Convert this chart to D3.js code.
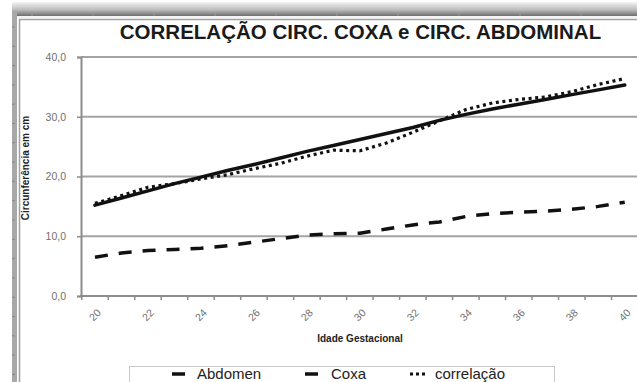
<!DOCTYPE html>
<html>
<head>
<meta charset="utf-8">
<script src="https://cdn.jsdelivr.net/npm/d3@7"></script>
<style>
  html, body { margin: 0; padding: 0; background: #fff; }
  svg { display: block; font-family: Arial, "Liberation Sans", sans-serif; }
</style>
</head>
<body>
<svg id="chart" width="637" height="382"></svg>
<script>
// Gestational age (weeks)
const weeks = [20,21,22,23,24,25,26,27,28,29,30,31,32,33,34,35,36,37,38,39,40];
// Abdominal circumference (cm)
const abdomen = [15.2,16.4,17.6,18.8,19.9,21.0,22.0,23.1,24.2,25.2,26.2,27.2,28.2,29.4,30.4,31.3,32.1,32.9,33.7,34.5,35.3];
// Thigh circumference (cm)
const coxa = [6.5,7.2,7.6,7.8,8.0,8.4,9.0,9.6,10.2,10.4,10.5,11.2,11.9,12.4,13.3,13.8,14.0,14.2,14.5,15.0,15.7];
// Correlation curve (cm)
const correlacao = [15.5,16.8,18.2,18.8,19.6,20.3,21.3,22.2,23.4,24.4,24.3,25.6,27.4,29.3,31.2,32.3,32.9,33.3,34.2,35.4,36.4];
const yTicks = [0,10,20,30,40];
const xLabelWeeks = [20,22,24,26,28,30,32,34,36,38,40];
const seriesNames = ["Abdomen","Coxa","correlação"];

const svg = d3.select("#chart");

// ---- page frame with shadow ----
const defs = svg.append("defs");
const grad = defs.append("linearGradient").attr("id","topShade").attr("x1",0).attr("y1",0).attr("x2",0).attr("y2",1);
grad.append("stop").attr("offset","0%").attr("stop-color","#f4f4f4");
grad.append("stop").attr("offset","55%").attr("stop-color","#bdbdbd");
grad.append("stop").attr("offset","100%").attr("stop-color","#6e6e6e");
svg.append("rect").attr("x",12).attr("y",2).attr("width",625).attr("height",14).attr("fill","url(#topShade)");
svg.append("rect").attr("x",12).attr("y",12).attr("width",5).attr("height",370).attr("fill","#a8a8a8");
svg.append("line").attr("x1",17).attr("x2",637).attr("y1",17).attr("y2",17).attr("stroke","#e8e8e8").attr("stroke-width",1);
svg.append("path").attr("d","M19.5,382V19.5H637").attr("fill","none").attr("stroke","#a0a0a0").attr("stroke-width",1.5);
// ruler ticks on the frame
d3.range(27, 382, 19.3).forEach(y => svg.append("line").attr("x1",12).attr("x2",15).attr("y1",y).attr("y2",y).attr("stroke","#888").attr("stroke-width",1));
d3.range(32, 637, 61).forEach(x => svg.append("line").attr("x1",x).attr("x2",x).attr("y1",13).attr("y2",16).attr("stroke","#999").attr("stroke-width",1));

// ---- scales ----
const x = d3.scaleBand().domain(weeks).range([81.75, 638]).padding(0);
const y = d3.scaleLinear().domain([0, 40]).range([296, 57]);
const cx = w => x(w) + x.bandwidth() / 2;

// ---- gridlines ----
svg.append("g").selectAll("line").data(yTicks.filter(v => v > 0)).join("line")
  .attr("x1", 81).attr("x2", 637)
  .attr("y1", d => y(d)).attr("y2", d => y(d))
  .attr("stroke", "#a3a3a3").attr("stroke-width", 2);

// ---- y axis ----
const yAxis = svg.append("g").attr("transform","translate(81,0)")
  .call(d3.axisLeft(y).tickValues(yTicks).tickSize(4).tickPadding(11)
    .tickFormat(d => d3.format(".1f")(d).replace(".", ",")));
yAxis.select(".domain").attr("stroke","#8c8c8c").attr("stroke-width",2);
yAxis.selectAll(".tick line").attr("stroke","#8c8c8c").attr("stroke-width",1.5);
yAxis.selectAll(".tick text").attr("fill","#707070").attr("font-size",10.5).attr("font-family","Arial, 'Liberation Sans', sans-serif");

// ---- x axis ----
const xAxis = svg.append("g").attr("transform","translate(0,296)");
xAxis.append("line").attr("x1",80).attr("x2",637).attr("y1",0).attr("y2",0)
  .attr("stroke","#8c8c8c").attr("stroke-width",2);
xAxis.selectAll("line.tk").data(weeks).join("line").attr("class","tk")
  .attr("x1", d => x(d)).attr("x2", d => x(d)).attr("y1",0).attr("y2",4)
  .attr("stroke","#8c8c8c").attr("stroke-width",1.5);
xAxis.selectAll("text").data(xLabelWeeks).join("text")
  .attr("transform", d => `translate(${cx(d)},19) rotate(-45)`)
  .attr("text-anchor","middle").attr("dy","0.35em")
  .attr("fill","#707070").attr("font-size",10.5)
  .text(d => d);

// ---- axis titles ----
svg.append("text").attr("x",360).attr("y",342).attr("text-anchor","middle")
  .attr("font-weight","bold").attr("font-size",10).attr("fill","#222")
  .text("Idade Gestacional");
svg.append("text").attr("transform","translate(29,168) rotate(-90)").attr("text-anchor","middle")
  .attr("font-weight","bold").attr("font-size",10).attr("fill","#222")
  .text("Circunferência em cm");

// ---- title ----
svg.append("text").attr("x",360.5).attr("y",39).attr("text-anchor","middle")
  .attr("font-weight","bold").attr("font-size",20.5).attr("fill","#1a1a1a")
  .text("CORRELAÇÃO CIRC. COXA e CIRC. ABDOMINAL");

// ---- series ----
const line = d3.line().x((d,i) => cx(weeks[i])).y(d => y(d));
const styles = [
  {data: abdomen, dash: null, width: 3.5, cap: "round"},
  {data: coxa, dash: "13 11", width: 3.5, cap: "butt"},
  {data: correlacao, dash: "3 3.6", width: 3.2, cap: "butt"}
];
styles.forEach(s => {
  svg.append("path").datum(s.data).attr("d", line)
    .attr("fill","none").attr("stroke","#111").attr("stroke-width", s.width)
    .attr("stroke-linecap", s.cap).attr("stroke-linejoin","round")
    .attr("stroke-dasharray", s.dash);
});

// ---- legend ----
const lg = svg.append("g");
lg.append("rect").attr("x",129.5).attr("y",366.5).attr("width",425).attr("height",30)
  .attr("fill","#fff").attr("stroke","#c8c8c8").attr("stroke-width",1);
const legendPos = [{mx:172, tx:197}, {mx:305, tx:331}, {mx:410, tx:435}];
seriesNames.forEach((name, i) => {
  const p = legendPos[i];
  lg.append("line").attr("x1", p.mx).attr("x2", p.mx + (i === 2 ? 17 : 13))
    .attr("y1", 374).attr("y2", 374)
    .attr("stroke","#111").attr("stroke-width", i === 2 ? 3 : 3.5)
    .attr("stroke-dasharray", i === 2 ? "3 3" : null);
  lg.append("text").attr("x", p.tx).attr("y", 378.5).attr("font-size",15).attr("fill","#222")
    .text(name);
});
</script>
</body>
</html>
